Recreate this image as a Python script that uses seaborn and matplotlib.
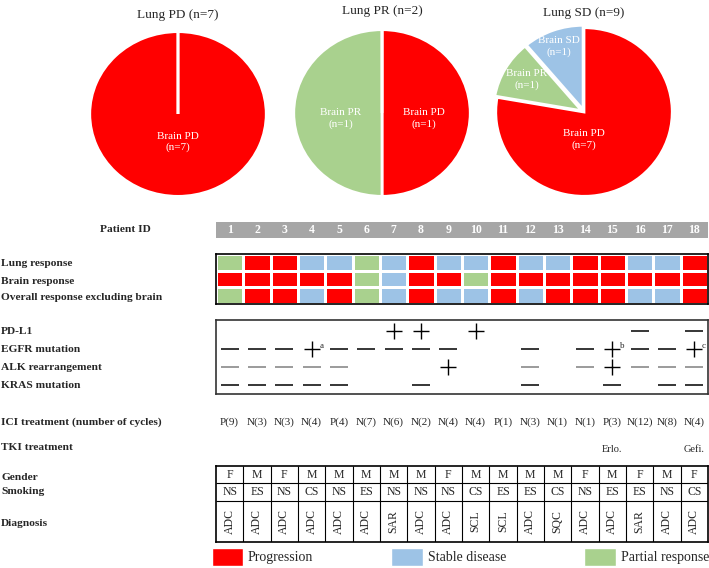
import numpy as np
import pandas as pd
import matplotlib.pyplot as plt
import seaborn as sns
from matplotlib.colors import ListedColormap
from matplotlib.patches import Patch

# Brain response counts inside each lung-response group
pie_titles = ['Lung PD (n=7)', 'Lung PR (n=2)', 'Lung SD (n=9)']
brain_pd = [7, 1, 7]
brain_pr = [0, 1, 1]
brain_sd = [0, 0, 1]

# Per patient data (0 = progression, 1 = stable disease, 2 = partial response)
patients = list(range(1, 19))
lung_resp = [2, 0, 0, 1, 1, 2, 1, 0, 1, 1, 0, 1, 1, 0, 0, 1, 1, 0]
brain_resp = [0, 0, 0, 0, 0, 2, 1, 0, 0, 2, 0, 0, 0, 0, 0, 0, 0, 0]
overall_resp = [2, 0, 0, 1, 0, 2, 1, 0, 1, 1, 0, 1, 0, 0, 0, 1, 1, 0]
resp_rows = ['Lung response', 'Brain response', 'Overall response excluding brain']

pdl1 = ['', '', '', '', '', '', '+', '+', '', '+', '', '', '', '', '', '-', '', '-']
egfr = ['-', '-', '-', '+a', '-', '-', '-', '-', '-', '', '', '-', '', '-', '+b', '-', '-', '+c']
alk = ['-', '-', '-', '-', '-', '', '', '', '+', '', '', '-', '', '-', '+', '-', '-', '-']
kras = ['-', '-', '-', '-', '-', '', '', '-', '', '', '', '-', '', '', '-', '', '-', '-']
marker_rows = ['PD-L1', 'EGFR mutation', 'ALK rearrangement', 'KRAS mutation']

ici = ['P(9)', 'N(3)', 'N(3)', 'N(4)', 'P(4)', 'N(7)', 'N(6)', 'N(2)', 'N(4)',
       'N(4)', 'P(1)', 'N(3)', 'N(1)', 'N(1)', 'P(3)', 'N(12)', 'N(8)', 'N(4)']
tki = [''] * 14 + ['Erlo.', '', '', 'Gefi.']
gender = list('FMFMMMMMFMMMMFMFMF')
smoking = ['NS', 'ES', 'NS', 'CS', 'NS', 'ES', 'NS', 'NS', 'NS', 'CS',
           'ES', 'ES', 'CS', 'NS', 'ES', 'ES', 'NS', 'CS']
diagnosis = ['ADC', 'ADC', 'ADC', 'ADC', 'ADC', 'ADC', 'SAR', 'ADC', 'ADC',
             'SCL', 'SCL', 'ADC', 'SQC', 'ADC', 'ADC', 'SAR', 'ADC', 'ADC']

RED, BLUE, GREEN = '#ff0000', '#9dc3e6', '#a9d18e'

sns.set_theme(style='white')
plt.rcParams['font.family'] = ['Liberation Serif', 'DejaVu Serif']

W, H = 709, 568
fig = plt.figure(figsize=(W / 100, H / 100), dpi=100)


def box(x0, y0, x1, y1):
    return [x0 / W, 1 - y1 / H, (x1 - x0) / W, (y1 - y0) / H]


# Pies
pie_boxes = [(88, 30, 268, 198), (292, 28, 472, 198), (494, 26, 674, 198)]
title_y = [15, 11, 13]
pie_labels = [
    [('Brain PD\n(n=7)', 0, -0.34)],
    [('Brain PR\n(n=1)', -0.47, -0.07), ('Brain PD\n(n=1)', 0.47, -0.07)],
    [('Brain PD\n(n=7)', 0, -0.33), ('Brain PR\n(n=1)', -0.65, 0.39), ('Brain SD\n(n=1)', -0.28, 0.78)],
]
for i in range(3):
    ax = fig.add_axes(box(*pie_boxes[i]))
    vals = [brain_pd[i], brain_pr[i], brain_sd[i]]
    ax.pie(vals, colors=[RED, GREEN, BLUE], startangle=90, counterclock=False,
           explode=[0, 0.03, 0.03] if i == 2 else None,
           wedgeprops=dict(edgecolor='white', linewidth=2))
    ax.set_aspect('auto')
    ax.set_xlim(-1.02, 1.02)
    ax.set_ylim(-1.02, 1.02)
    for txt, x, y in pie_labels[i]:
        ax.text(x, y, txt, color='white', ha='center', va='center', fontsize=8, linespacing=1.3)
    cx = (pie_boxes[i][0] + pie_boxes[i][2]) / 2
    fig.text(cx / W, 1 - title_y[i] / H, pie_titles[i], ha='center', va='center', fontsize=9.5)

# Row labels on the left
def left_label(y, txt):
    fig.text(1 / W, 1 - y / H, txt, ha='left', va='center', fontsize=8.2, fontweight='bold')

fig.text(125 / W, 1 - 230 / H, 'Patient ID', ha='center', va='center', fontsize=8.2, fontweight='bold')
for y, t in zip([264, 281, 297], resp_rows):
    left_label(y, t)
for y, t in zip([331, 349, 368, 386], marker_rows):
    left_label(y, t)
left_label(422, 'ICI treatment (number of cycles)')
left_label(447, 'TKI treatment')
left_label(477, 'Gender')
left_label(491, 'Smoking')
left_label(523, 'Diagnosis')

# Patient ID bar
ax_id = fig.add_axes(box(216, 222, 708, 238))
ax_id.set_facecolor('#a6a6a6')
ax_id.set_xlim(0, 18)
ax_id.set_ylim(0, 1)
for i, p in enumerate(patients):
    ax_id.text(i + 0.5, 0.5, str(p), color='white', fontweight='bold', ha='center', va='center', fontsize=8.5)
ax_id.set_xticks([])
ax_id.set_yticks([])
for s in ax_id.spines.values():
    s.set_visible(False)

# Response heatmap
ax_hm = fig.add_axes(box(216, 254, 708, 304))
resp = pd.DataFrame([lung_resp, brain_resp, overall_resp], index=resp_rows, columns=patients)
sns.heatmap(resp, ax=ax_hm, cmap=ListedColormap([RED, BLUE, GREEN]), vmin=-0.5, vmax=2.5,
            cbar=False, linewidths=1, linecolor='white', xticklabels=False, yticklabels=False)
for s in ax_hm.spines.values():
    s.set_visible(True)
    s.set_color('black')
    s.set_linewidth(1.2)

# Molecular markers box
ax_mk = fig.add_axes(box(216, 320, 708, 394))
ax_mk.set_xlim(0, 18)
ax_mk.set_ylim(4, 0)
ax_mk.set_xticks([])
ax_mk.set_yticks([])
for s in ax_mk.spines.values():
    s.set_color('#333333')
    s.set_linewidth(1.2)
row_y = [0.6, 1.55, 2.55, 3.5]
for r, vals in enumerate([pdl1, egfr, alk, kras]):
    dash_col = '#808080' if r == 2 else 'black'
    for i, v in enumerate(vals):
        if v.startswith('+'):
            ax_mk.plot(i + 0.5, row_y[r], marker='+', ms=12, mew=1.0, color='black')
            if len(v) > 1:
                ax_mk.text(i + 0.78, row_y[r] - 0.12, v[1], fontsize=6.5, ha='left', va='center')
        elif v == '-':
            ax_mk.plot(i + 0.5, row_y[r], marker='_', ms=13, mew=1.1, color=dash_col)

# Treatment text rows
ax_tx = fig.add_axes(box(216, 410, 708, 460))
ax_tx.set_xlim(0, 18)
ax_tx.set_ylim(50, 0)
ax_tx.axis('off')
for i in range(18):
    ax_tx.text(i + 0.5, 12, ici[i], ha='center', va='center', fontsize=8)
    if tki[i]:
        ax_tx.text(i + 0.5, 40, tki[i], ha='center', va='center', fontsize=7.5)

# Patient characteristics table
ax_tb = fig.add_axes(box(216, 466, 708, 542))
ax_tb.set_xlim(0, 18)
ax_tb.set_ylim(76, 0)
ax_tb.set_xticks([])
ax_tb.set_yticks([])
for s in ax_tb.spines.values():
    s.set_color('black')
    s.set_linewidth(1.2)
ax_tb.vlines(np.arange(1, 18), 0, 76, color='black', lw=0.8)
ax_tb.hlines([17, 35], 0, 18, color='black', lw=0.8)
for i in range(18):
    ax_tb.text(i + 0.5, 8.5, gender[i], ha='center', va='center', fontsize=8.5)
    ax_tb.text(i + 0.5, 26, smoking[i], ha='center', va='center', fontsize=8.5)
    ax_tb.text(i + 0.5, 55.5, diagnosis[i], ha='center', va='center', fontsize=8.5, rotation=90)

# Legend
handles = [Patch(facecolor=RED), Patch(facecolor=BLUE), Patch(facecolor=GREEN)]
fig.legend(handles, ['Progression', 'Stable disease', 'Partial response'], ncol=3,
           loc='lower left', bbox_to_anchor=(199 / W, -0.018), frameon=False, fontsize=10,
           handlelength=2.3, handleheight=1.6, handletextpad=0.3, columnspacing=5.65)

fig.savefig('out.png', dpi=100)
